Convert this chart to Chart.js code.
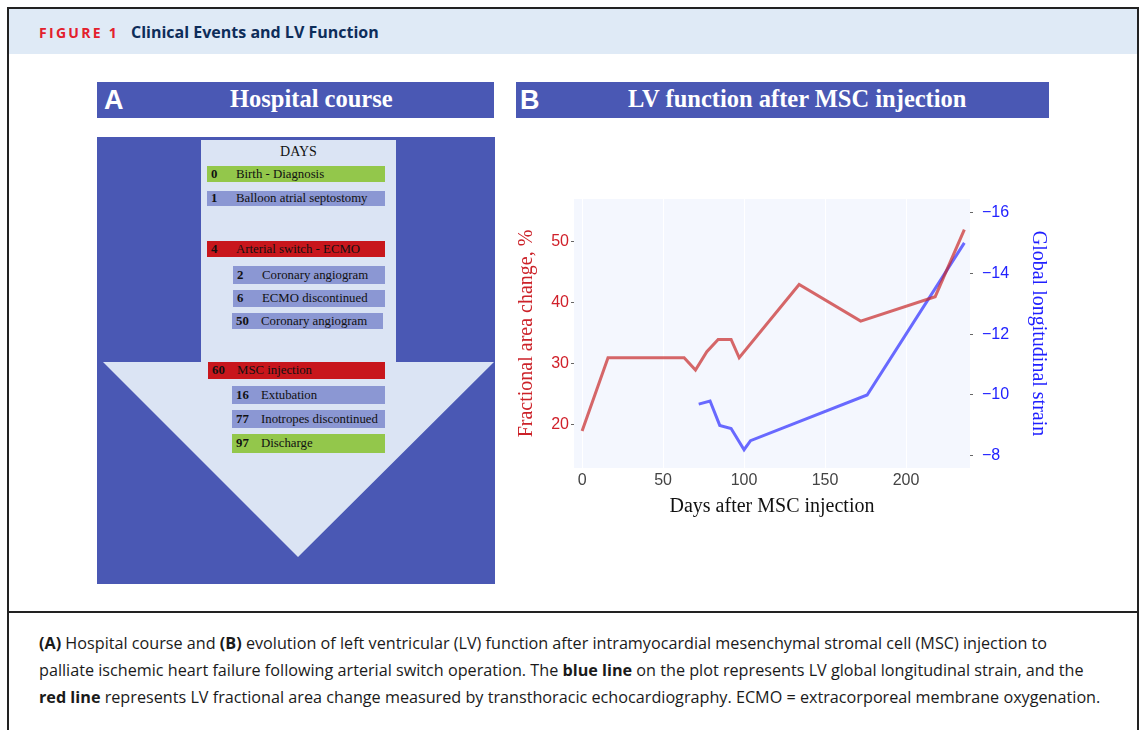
<!DOCTYPE html>
<html>
<head>
<meta charset="utf-8">
<script src="https://cdn.jsdelivr.net/npm/chart.js@4.4.1/dist/chart.umd.min.js"></script>
<style>
    body { margin: 0; background: #fff; width: 1142px; height: 730px; overflow: hidden; position: relative; }
    .abs { position: absolute; }
    .frame { left: 7px; top: 7px; width: 1128px; height: 740px; border: 2px solid #222; border-bottom: none; }
    .band { left: 9px; top: 9px; width: 1128px; height: 45px; background: #dfeaf6; }
    .fig-no { left: 39px; top: 23px; font: 700 14px 'Open Sans', sans-serif; letter-spacing: 2.3px; color: #e3202c; }
    .fig-title { left: 131px; top: 21px; font: 700 16px 'Open Sans', sans-serif; color: #0d2d5a; }
    .divider { left: 9px; top: 611px; width: 1128px; height: 2px; background: #222; }
    .caption { left: 39px; font: 16.2px 'Open Sans', sans-serif; color: #1a1a1a; white-space: nowrap; line-height: 22px; }
    .panel-head { top: 82px; height: 36px; background: #4a58b4; color: #fff; }
    .panel-letter { position: absolute; top: 3px; left: 7px; font: 700 27px 'Liberation Sans', sans-serif; }
    .panel-title { position: absolute; top: 3px; font: 700 24.5px 'Liberation Serif', serif; white-space: nowrap; }
    .row { position: absolute; font: 12.8px 'Liberation Serif', serif; color: #111; white-space: nowrap; }
    .row b { position: absolute; left: 4px; }
    .row span { position: absolute; left: 29px; }
</style>
</head>
<body>
<div class="abs frame"></div>
<div class="abs band"></div>
<div class="abs fig-no">FIGURE 1</div>
<div class="abs fig-title">Clinical Events and LV Function</div>

<div class="abs panel-head" style="left:97px;width:397px;">
    <div class="panel-letter">A</div>
    <div class="panel-title" style="left:133px;">Hospital course</div>
</div>
<div class="abs panel-head" style="left:516px;width:533px;">
    <div class="panel-letter" style="left:4px;">B</div>
    <div class="panel-title" style="left:112px;">LV function after MSC injection</div>
</div>

<svg class="abs" style="left:97px;top:137px;" width="398" height="447">
    <rect x="0" y="0" width="398" height="447" fill="#4a58b4"></rect>
    <polygon points="104,3 299,3 299,225 397,225 201,420 6,225 104,225" fill="#dbe4f4"></polygon>
</svg>
<div class="abs" style="left:201px;top:144px;width:195px;text-align:center;font:14px 'Liberation Serif', serif;color:#111;">DAYS</div>
<div id="events"></div>

<canvas id="lvChart" class="abs" style="left:500px;top:190px;" width="580" height="340"></canvas>

<div class="abs divider"></div>
<div class="abs caption" style="top:632px;"><b>(A)</b> Hospital course and <b>(B)</b> evolution of left ventricular (LV) function after intramyocardial mesenchymal stromal cell (MSC) injection to</div>
<div class="abs caption" style="top:659px;">palliate ischemic heart failure following arterial switch operation. The <b>blue line</b> on the plot represents LV global longitudinal strain, and the</div>
<div class="abs caption" style="top:686px;"><b>red line</b> represents LV fractional area change measured by transthoracic echocardiography. ECMO = extracorporeal membrane oxygenation.</div>

<script>
// hospital course events (panel A)
const eventDays = ['0', '1', '4', '2', '6', '50', '60', '16', '77', '97'];
const eventLabels = ['Birth - Diagnosis', 'Balloon atrial septostomy', 'Arterial switch - ECMO', 'Coronary angiogram',
    'ECMO discontinued', 'Coronary angiogram', 'MSC injection', 'Extubation', 'Inotropes discontinued', 'Discharge'];
const eventKinds = ['milestone', 'step', 'major', 'step', 'step', 'step', 'major', 'step', 'step', 'milestone'];

// LV function after MSC injection (panel B)
const facDays = [0, 16, 63, 70, 77, 84, 92, 97, 134, 172, 218, 236];
const facValues = [19, 31, 31, 29, 32, 34, 34, 31, 43, 37, 41, 52];
const glsDays = [72, 79, 85, 92, 100, 104, 176, 236];
const glsValues = [-9.7, -9.8, -9.0, -8.9, -8.2, -8.5, -10.0, -15.0];

// layout of the event rows
const rowLayout = [
    [207, 166, 178, 16], [207, 191, 178, 15], [207, 241, 178, 16], [233, 266, 152, 18], [233, 290, 152, 17],
    [232, 313, 151, 16], [208, 362, 177, 17], [232, 386, 153, 18], [232, 410, 153, 18], [232, 434, 153, 19]
];
const kindColors = { milestone: '#93c74b', step: '#8b97d3', major: '#c8161c' };

const eventsBox = document.getElementById('events');
eventDays.forEach(function(day, i) {
    const r = rowLayout[i];
    const row = document.createElement('div');
    row.className = 'row';
    row.style.cssText = 'left:' + r[0] + 'px;top:' + r[1] + 'px;width:' + r[2] + 'px;height:' + r[3] + 'px;line-height:' + r[3] + 'px;background:' + kindColors[eventKinds[i]];
    row.innerHTML = '<b>' + day + '</b><span>' + eventLabels[i] + '</span>';
    eventsBox.appendChild(row);
});

const plotBackground = {
    id: 'plotBackground',
    beforeDraw(chart) {
        const a = chart.chartArea;
        chart.ctx.save();
        chart.ctx.fillStyle = '#f4f7fe';
        chart.ctx.fillRect(a.left, a.top, a.right - a.left, a.bottom - a.top);
        chart.ctx.restore();
    }
};

const tickFont = { family: "'Liberation Sans', Arial, sans-serif", size: 16 };
const titleFont = { family: "'Liberation Serif', 'Times New Roman', serif", size: 20 };

function fitSide(width) {
    return function(s) {
        s.width = width;
        s.paddingTop = 9;
        s.paddingBottom = 9;
    };
}

new Chart(document.getElementById('lvChart'), {
    type: 'line',
    data: {
        datasets: [{
            label: 'Fractional area change',
            data: facDays.map(function(d, i) { return { x: d, y: facValues[i] }; }),
            borderColor: 'rgba(200, 40, 40, 0.7)',
            borderWidth: 3,
            pointRadius: 0,
            yAxisID: 'y'
        }, {
            label: 'Global longitudinal strain',
            data: glsDays.map(function(d, i) { return { x: d, y: glsValues[i] }; }),
            borderColor: 'rgba(50, 50, 255, 0.72)',
            borderWidth: 3,
            pointRadius: 0,
            yAxisID: 'y2'
        }]
    },
    options: {
        responsive: false,
        animation: false,
        layout: { padding: 0 },
        plugins: { legend: { display: false }, tooltip: { enabled: false } },
        scales: {
            x: {
                type: 'linear',
                min: -5,
                max: 239.5,
                afterFit: function(s) { s.height = 62; },
                grid: { color: '#ffffff', drawTicks: false },
                border: { display: false },
                ticks: { stepSize: 50, includeBounds: false, padding: 3, color: '#444', font: tickFont },
                title: { display: true, text: 'Days after MSC injection', color: '#111', font: titleFont, padding: { bottom: 11 } }
            },
            y: {
                position: 'left',
                min: 12.95,
                max: 57,
                afterFit: fitSide(74),
                grid: { drawOnChartArea: false, tickLength: 3, tickColor: '#666' },
                border: { display: false },
                ticks: { stepSize: 10, includeBounds: false, padding: 2, color: '#d0202a', font: tickFont },
                title: { display: true, text: 'Fractional area change, %', color: '#cc2229', font: titleFont, padding: { top: 15 } }
            },
            y2: {
                position: 'right',
                reverse: true,
                min: -16.44,
                max: -7.6,
                afterFit: fitSide(110),
                grid: { drawOnChartArea: false, tickLength: 3, tickColor: '#666' },
                border: { display: false },
                ticks: {
                    stepSize: 2,
                    includeBounds: false,
                    padding: 9,
                    color: '#2222ff',
                    font: tickFont,
                    callback: function(value) { return String(value).replace('-', '\u2212'); }
                },
                title: { display: true, text: 'Global longitudinal strain', color: '#2020ff', font: titleFont, padding: { top: 30 } }
            }
        }
    },
    plugins: [plotBackground]
});
</script>
</body>
</html>
